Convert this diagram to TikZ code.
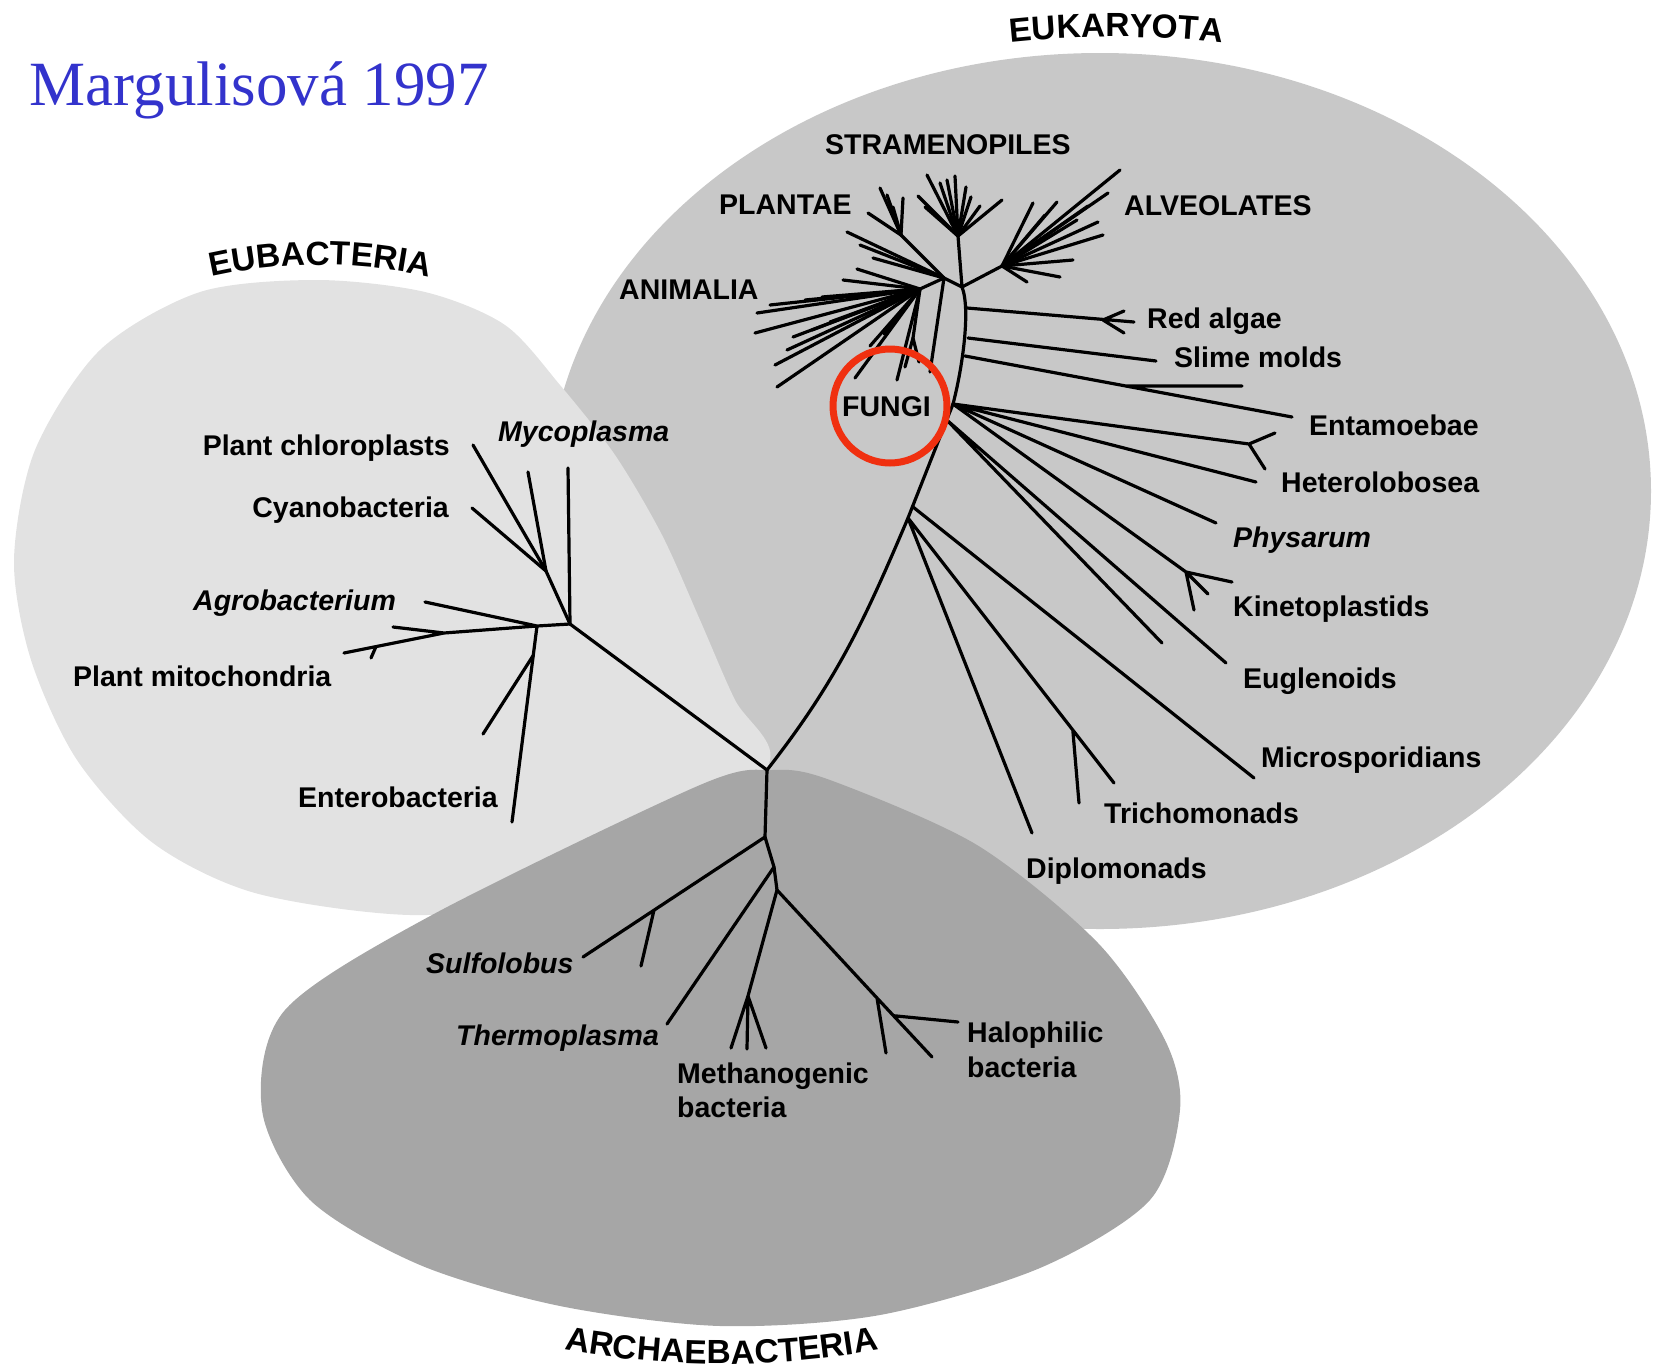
\documentclass[tikz,border=0pt]{standalone}
\usepackage{fontspec}
\setmainfont{Liberation Sans}
\newfontfamily\titlefont{Liberation Serif}
\usetikzlibrary{calc,decorations.text}

\definecolor{eukaryota-gray}{RGB}{200,200,200}
\definecolor{eubacteria-gray}{RGB}{226,226,226}
\definecolor{archaea-gray}{RGB}{166,166,166}
\definecolor{title-blue}{RGB}{51,51,204}
\definecolor{ring-red}{RGB}{240,48,16}

\newcommand{\domainfont}{\fontsize{33.5}{36}\selectfont\bfseries}

\tikzset{
    tree-line/.style = {line width=3.2pt, line cap=round, line join=round},
    taxon-label/.style = {font=\fontsize{28.5}{30}\selectfont\bfseries, inner sep=0pt, anchor=base west},
    taxon-italic/.style = {taxon-label, font=\fontsize{28.5}{30}\selectfont\bfseries\itshape},
    domain-text/.style = {decorate, decoration={text along path, text align=center, text={|\domainfont|#1}}},
    fungi-ring/.style = {draw=ring-red, line width=7pt},
}

\begin{document}
\begin{tikzpicture}[x=1pt, y=1pt]
\useasboundingbox (0,0) rectangle (1655,-1368);

% the three domains
\fill[eukaryota-gray] (1100,-491) ellipse[x radius=551, y radius=438];
\fill[eubacteria-gray] plot[smooth cycle] coordinates {(317,-280) (425,-292) (505,-325) (560,-385) (615,-455) (662,-535) (700,-620) (735,-700) (770,-760) (700,-850) (560,-900) (410,-915) (255,-893) (153,-843) (77,-760) (31,-660) (14,-560) (35,-450) (100,-350) (200,-292)};
\fill[archaea-gray] plot[smooth cycle] coordinates {(772,-770) (830,-780) (977,-845) (1098,-943) (1165,-1040) (1180,-1110) (1150,-1200) (1040,-1268) (880,-1315) (720,-1326) (560,-1306) (420,-1265) (310,-1200) (262,-1110) (285,-1010) (432,-915) (700,-785)};

\path[domain-text=EUKARYOTA] ($(1116.5,-1037)+(97:1000)$) arc[start angle=97, end angle=83, radius=1000];
\path[domain-text=EUBACTERIA] ($(320.5,-761)+(106:496)$) arc[start angle=106, end angle=74, radius=496];
\path[domain-text=ARCHAEBACTERIA] ($(721.5,-482)+(-103:882)$) arc[start angle=-103, end angle=-77, radius=882];

\node[anchor=base west, inner sep=0pt, text=title-blue, font=\titlefont\fontsize{63}{70}\selectfont] (title) at (29.5,-105.6) {Margulisová 1997};

% eubacteria
\coordinate (root) at (767,-770);
\coordinate (eb1) at (570,-624);
\coordinate (eb2) at (546,-571);
\coordinate (eb3) at (537,-626);
\coordinate (pm) at (444,-633);
\foreach \name/\x/\y in {chl/473/445, cya/472/508, mid/528/472, myc/568/468, agr/425/602, pm1/393/627, pm2/344/653, pm3/371/658, ent1/512/822, ent2/483/734}
    \coordinate (\name) at (\x,-\y);
\draw[tree-line] (root) -- (eb1) -- (eb2) -- (chl);
\draw[tree-line] (eb2) -- (cya) (eb2) -- (mid) (eb1) -- (myc);
\draw[tree-line] (eb1) -- (eb3) -- (agr) (eb3) -- (pm) -- (pm1) (pm) -- (pm2) (eb3) -- (ent1);
\draw[tree-line] ($(eb3)!0.15!(ent1)$) -- (ent2);
\draw[tree-line] ($(pm)!0.68!(pm2)$) -- (pm3);

% eukaryota stem
\coordinate (e1) at (908,-518);
\coordinate (e2) at (953,-404);
\coordinate (lb) at (962,-287);
\coordinate (la) at (944,-278);
\coordinate (lf) at (930,-372);
\draw[tree-line] (root) to[out=52, in=247] (e1) -- (e2) .. controls (962,-370) and (971,-310) .. (lb) -- (la) -- (lf);

\foreach \name/\x/\y in {ra0/967/308, red/1134/322, raf/1103/320, ra1/1124/311, ra2/1124/333,
    sm0/968/338, slime/1156/361, en0/965/356, enta/1292/417, enb/1242/386,
    hf/1249/444, hf1/1275/433, hf2/1265/469, het/1256/482, phy/1216/523,
    kf/1186/572, kf1/1232/582, kf2/1208/594, kf3/1194/610, eug1/1162/643, eug2/1226/663,
    mic/1254/778, tri/1114/783, tri2/1079/803, dip/1032/833}
    \coordinate (\name) at (\x,-\y);
\coordinate (e3) at ($(e1)!0.86!(e2)$);
\coordinate (e1b) at ($(e1)!0.1!(e2)$);
\draw[tree-line] (ra0) -- (red) (raf) -- (ra1) (raf) -- (ra2);
\draw[tree-line] (sm0) -- (slime) (en0) -- (enta) ($(en0)!0.49!(enta)$) -- (enb);
\draw[tree-line] (e2) -- (hf) -- (hf1) (hf) -- (hf2) (e2) -- (het) (e2) -- (phy);
\draw[tree-line] (e2) -- (kf) -- (kf1) (kf) -- (kf2) (kf) -- (kf3);
\draw[tree-line] (e3) -- (eug1) (e3) -- (eug2) (e1b) -- (mic);
\draw[tree-line] (e1) -- (tri) ($(e1)!0.8!(tri)$) -- (tri2) (e1) -- (dip);

% crown groups
\coordinate (stra) at (958,-236);
\coordinate (plan) at (901,-235);
\coordinate (alve) at (1002,-266);
\coordinate (anim) at (920,-289);
\coordinate (fung) at (913,-338);
\draw[tree-line] (lb) -- (stra) (lb) -- (alve) (la) -- (plan) (la) -- (anim) -- (fung);
\foreach \x/\y [count=\i] in {927/175, 940/183, 925/207, 955/176, 966/187, 971/197, 980/206, 1002/200, 947/180, 918/196}{
    \coordinate (stra-\i) at (\x,-\y);
    \draw[tree-line] (stra) -- (stra-\i);
}
\foreach \x/\y [count=\i] in {880/188, 903/198, 868/213, 893/207, 887/195}{
    \coordinate (plan-\i) at (\x,-\y);
    \draw[tree-line] (plan) -- (plan-\i);
}
\foreach \x/\y [count=\i] in {847/232, 873/258, 860/245}{
    \coordinate (plant-\i) at (\x,-\y);
    \draw[tree-line] (la) -- (plant-\i);
}
\foreach \x/\y [count=\i] in {1120/170, 1108/193, 1077/220, 1057/202, 1033/203, 1103/235, 1073/260, 1060/277, 1027/282, 1088/206, 1098/222, 1045/215}{
    \coordinate (alve-\i) at (\x,-\y);
    \draw[tree-line] (alve) -- (alve-\i);
}
\foreach \x/\y [count=\i] in {757/313, 770/305, 755/333, 787/350, 793/337, 775/365, 777/387, 822/297, 843/280, 857/269, 830/322, 812/330, 805/300}{
    \coordinate (anim-\i) at (\x,-\y);
    \draw[tree-line] (anim) -- (anim-\i);
}
\foreach \x/\y [count=\i] in {855/378, 897/380, 870/346, 884/334}{
    \coordinate (fung-\i) at (\x,-\y);
    \draw[tree-line] (anim) -- (fung-\i);
}
\coordinate (fung-a) at (905,-367);
\coordinate (fung-b) at (919,-362);
\draw[tree-line] (fung) -- (fung-a) (fung) -- (fung-b);

% archaebacteria
\foreach \name/\x/\y in {ar1/765/837, ar2/774/867, ar3/777/890, sul/583/957, sul2/641/966, the/667/1024,
    met/748/996, met1/731/1048, met2/747/1049, met3/766/1048, hal/877/998, hal1/886/1053, hal2/932/1057, hal3/958/1022}
    \coordinate (\name) at (\x,-\y);
\draw[tree-line] (root) -- (ar1) -- (ar2) -- (ar3);
\draw[tree-line] (ar1) -- (sul) ($(ar1)!0.61!(sul)$) -- (sul2) (ar2) -- (the);
\draw[tree-line] (ar3) -- (met) -- (met1) (met) -- (met2) (met) -- (met3);
\draw[tree-line] (ar3) -- (hal) -- (hal1) (hal) -- (hal2) ($(hal)!0.3!(hal2)$) -- (hal3);

% labels
\node[taxon-label] (stramenopiles) at (825,-154) {STRAMENOPILES};
\node[taxon-label] (plantae) at (719,-214) {PLANTAE};
\node[taxon-label] (alveolates) at (1124,-215) {ALVEOLATES};
\node[taxon-label] (animalia) at (619,-299) {ANIMALIA};
\node[taxon-label] (fungi) at (842,-416) {FUNGI};
\node[taxon-label] (red-algae) at (1147,-328) {Red algae};
\node[taxon-label] (slime-molds) at (1174,-367) {Slime molds};
\node[taxon-label] (entamoebae) at (1309,-435) {Entamoebae};
\node[taxon-label] (heterolobosea) at (1281,-492) {Heterolobosea};
\node[taxon-italic] (physarum) at (1233,-547) {Physarum};
\node[taxon-label] (kinetoplastids) at (1233,-616) {Kinetoplastids};
\node[taxon-label] (euglenoids) at (1243,-688) {Euglenoids};
\node[taxon-label] (microsporidians) at (1261,-767) {Microsporidians};
\node[taxon-label] (trichomonads) at (1104,-823) {Trichomonads};
\node[taxon-label] (diplomonads) at (1026,-878) {Diplomonads};

\node[taxon-label, anchor=base east] (chloroplasts) at (450,-455) {Plant chloroplasts};
\node[taxon-italic] (mycoplasma) at (498,-441) {Mycoplasma};
\node[taxon-label, anchor=base east] (cyanobacteria) at (449,-517) {Cyanobacteria};
\node[taxon-italic] (agrobacterium) at (193,-610) {Agrobacterium};
\node[taxon-label] (mitochondria) at (73,-686) {Plant mitochondria};
\node[taxon-label] (enterobacteria) at (298,-807) {Enterobacteria};

\node[taxon-italic] (sulfolobus) at (426,-973) {Sulfolobus};
\node[taxon-italic] (thermoplasma) at (456,-1045) {Thermoplasma};
\node[taxon-label] (methanogenic) at (677,-1083) {Methanogenic};
\node[taxon-label] (methanogenic-2) at (677,-1117) {bacteria};
\node[taxon-label] (halophilic) at (967,-1042) {Halophilic};
\node[taxon-label] (halophilic-2) at (967,-1077) {bacteria};

\draw[fungi-ring] (890,-406) circle[radius=57];
\end{tikzpicture}
\end{document}
